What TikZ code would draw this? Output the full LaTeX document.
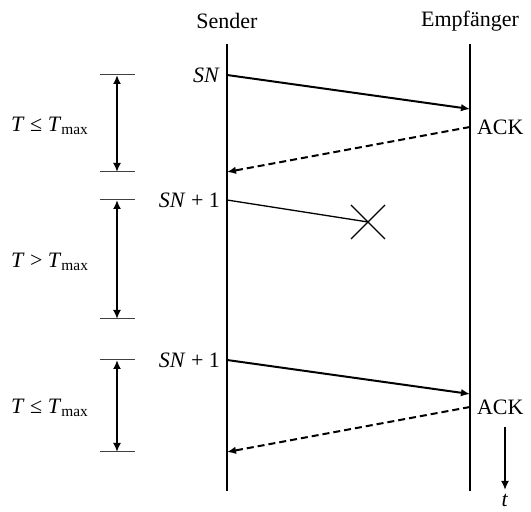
\documentclass[tikz,border=0pt]{standalone}
\usepackage{fontspec}
\setmainfont{Liberation Serif}
\usepackage{tikz}
\usetikzlibrary{arrows.meta, positioning, calc}
\tikzstyle{lifeline} = [line width=1pt]
\tikzstyle{msg} = [line width=1pt,->,>={Latex[length=4.5pt,width=3.8pt]}]
\tikzstyle{ackmsg} = [line width=1pt,dash pattern=on 3.5pt off 2pt,->,>={Latex[length=4.5pt,width=3.8pt]}]
\tikzstyle{lost} = [line width=0.65pt]
\tikzstyle{tick} = [line width=0.5pt, black!75]
\tikzstyle{interval} = [line width=1pt,<->,>={Latex[length=4.5pt,width=4pt]}]
\tikzstyle{arrow} = [line width=1pt,->,>={Latex[length=4.5pt,width=4pt]}]

\begin{document}
\begin{tikzpicture}[x=0.5pt, y=-0.5pt, every node/.style={font=\fontsize{11}{13}\selectfont}]
    \useasboundingbox (0,0) rectangle (531,512);

    % Teilnehmer
    \node (sender) at (227,21) {Sender};
    \node (empf) at (470,21) {Empfänger};
    \coordinate (stop) at (227,44);
    \coordinate (sbot) at (227,491);
    \coordinate (etop) at (470,44);
    \coordinate (ebot) at (470,491);
    \draw [lifeline] (stop) -- (sbot);
    \draw [lifeline] (etop) -- (ebot);

    % Nachrichten
    \coordinate (sn) at (227,75);
    \coordinate (snr) at (470,109);
    \coordinate (ack) at (470,127);
    \coordinate (acks) at (227,172);
    \coordinate (snb) at (227,200);
    \coordinate (loss) at (368,222);
    \coordinate (snc) at (227,360);
    \coordinate (sncr) at (470,394);
    \coordinate (ackc) at (470,407);
    \coordinate (ackcs) at (227,452);

    \node (lsn) [left] at (sn) {\textit{SN}};
    \node (lsnb) [left] at (snb) {\textit{SN} + 1};
    \node (lsnc) [left] at (snc) {\textit{SN} + 1};
    \node (lack) [right] at (ack) {ACK};
    \node (lackc) [right] at (ackc) {ACK};

    \draw [msg] (sn) -- (snr);
    \draw [ackmsg] (ack) -- (acks);
    \draw [lost] (snb) -- (loss);
    \draw [lost] ($(loss)+(-17,-17)$) -- ($(loss)+(17,17)$);
    \draw [lost] ($(loss)+(-17,17)$) -- ($(loss)+(17,-17)$);
    \draw [msg] (snc) -- (sncr);
    \draw [ackmsg] (ackc) -- (ackcs);

    % Zeitintervalle
    \coordinate (ia) at (117,75);
    \coordinate (ib) at (117,172);
    \coordinate (ic) at (117,200);
    \coordinate (id) at (117,319);
    \coordinate (ie) at (117,360);
    \coordinate (if) at (117,452);
    \foreach \c in {ia,ib,ic,id,ie,if}
        \draw [tick] ($(\c)+(-17,0)$) -- ($(\c)+(18,0)$);
    \draw [interval] (ia) -- (ib);
    \draw [interval] (ic) -- (id);
    \draw [interval] (ie) -- (if);
    \node (t1) at (50,126) {\textit{T} ≤ \textit{T}\textsubscript{max}};
    \node (t2) at (50,262) {\textit{T} > \textit{T}\textsubscript{max}};
    \node (t3) at (50,408) {\textit{T} ≤ \textit{T}\textsubscript{max}};

    % Zeitachse
    \coordinate (ttop) at (505,427);
    \coordinate (tbot) at (505,490);
    \node (tlab) at (505,500) {\textit{t}};
    \draw [arrow] (ttop) -- (tbot);
\end{tikzpicture}
\end{document}
